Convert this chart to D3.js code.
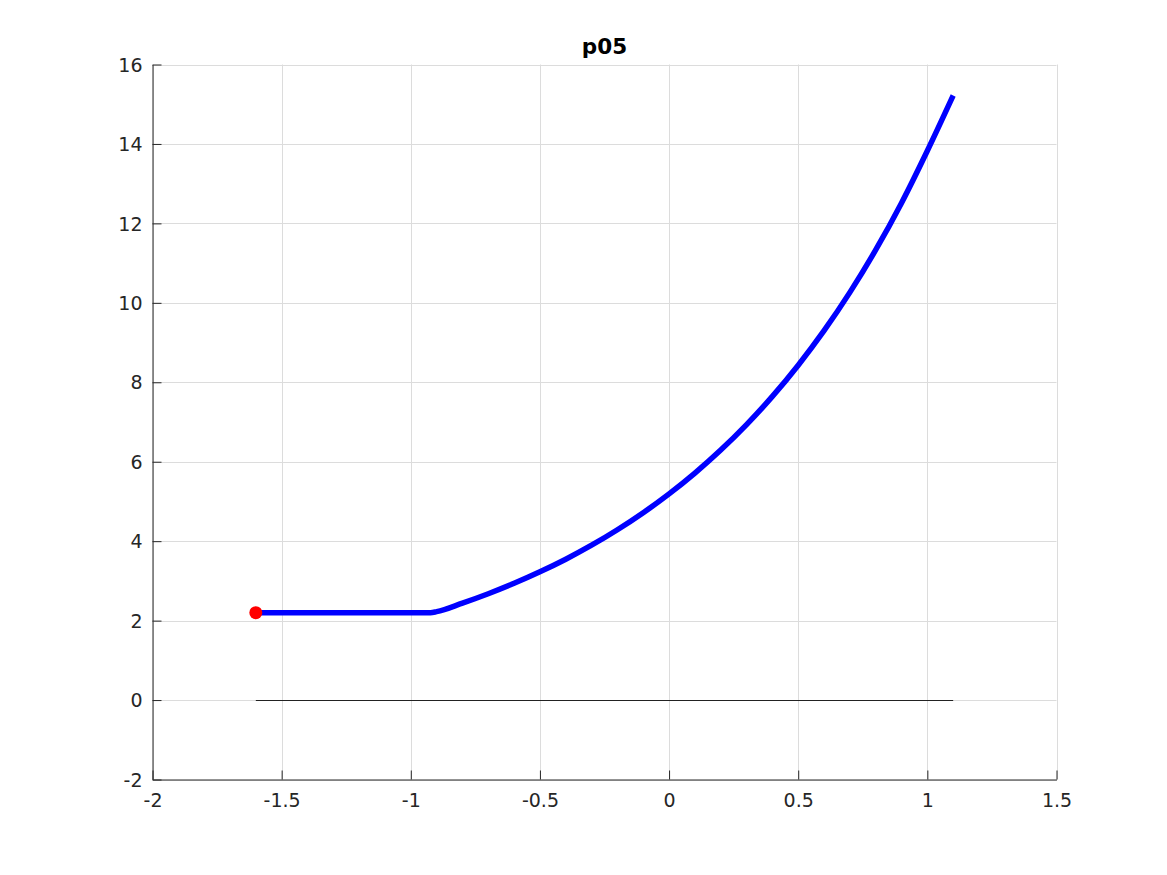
<!DOCTYPE html>
<html>
<head>
<meta charset="utf-8">
<script src="https://cdn.jsdelivr.net/npm/d3@7"></script>
<style>
  html, body { margin: 0; padding: 0; background: #fff; }
  svg { display: block; }
  text { font-family: "DejaVu Sans", sans-serif; }
</style>
</head>
<body>
<svg id="chart" width="1167" height="875"></svg>
<script>
// ---- data ----
const title = "p05";
const curveX = [-1.6, -0.924, -0.9, -0.8, -0.7, -0.6, -0.5, -0.4, -0.3, -0.2, -0.1, 0, 0.1, 0.2, 0.3, 0.4, 0.5, 0.6, 0.7, 0.8, 0.9, 1.0, 1.1];
const curveY = [2.2, 2.2, 2.225, 2.44, 2.677, 2.939, 3.228, 3.546, 3.898, 4.287, 4.716, 5.19, 5.714, 6.293, 6.935, 7.644, 8.43, 9.299, 10.263, 11.331, 12.515, 13.829, 15.22];
const baseX = [-1.6, 1.1];
const baseY = [0, 0];
const startPoint = [-1.6, 2.2];
const xTicks = [-2, -1.5, -1, -0.5, 0, 0.5, 1, 1.5];
const yTicks = [-2, 0, 2, 4, 6, 8, 10, 12, 14, 16];
const xDomain = [-2, 1.5];
const yDomain = [-2, 16];

(function () {
  // ---- layout ----
  const mLeft = 152.5, mRight = 1056.5, mTop = 64.5, mBottom = 779.5;
  const svg = d3.select("#chart");
  const x = d3.scaleLinear().domain(xDomain).range([mLeft, mRight]);
  const y = d3.scaleLinear().domain(yDomain).range([mBottom, mTop]);

  // grid
  const grid = svg.append("g");
  grid.selectAll(".gx").data(xTicks).enter().append("line")
    .attr("x1", d => Math.round(x(d)) + 0.5).attr("x2", d => Math.round(x(d)) + 0.5)
    .attr("y1", mTop).attr("y2", mBottom)
    .attr("stroke", "#dcdcdc").attr("stroke-width", 1);
  grid.selectAll(".gy").data(yTicks).enter().append("line")
    .attr("y1", d => Math.round(y(d)) + 0.5).attr("y2", d => Math.round(y(d)) + 0.5)
    .attr("x1", mLeft).attr("x2", mRight)
    .attr("stroke", "#dcdcdc").attr("stroke-width", 1);

  // axes
  const fmt = d => String(d);
  const xAxis = d3.axisBottom(x).tickValues(xTicks).tickFormat(fmt).tickSizeInner(-9).tickSizeOuter(0).tickPadding(14);
  const yAxis = d3.axisLeft(y).tickValues(yTicks).tickFormat(fmt).tickSizeInner(-9).tickSizeOuter(0).tickPadding(10);

  const gx = svg.append("g").attr("transform", `translate(0,${mBottom})`).call(xAxis);
  const gy = svg.append("g").attr("transform", `translate(${mLeft},0)`).call(yAxis);
  [gx, gy].forEach(g => {
    g.select(".domain").attr("stroke", "#262626").attr("stroke-width", 1);
    g.selectAll(".tick line").attr("stroke", "#262626").attr("stroke-width", 1);
    g.selectAll(".tick text").attr("fill", "#262626")
      .style("font-family", "DejaVu Sans, sans-serif").style("font-size", "19px");
  });
  gx.selectAll(".tick text").attr("dy", "0.71em");
  gy.selectAll(".tick text").attr("dy", "0.35em");

  // baseline y=0 (black)
  svg.append("path")
    .datum(d3.range(baseX.length))
    .attr("d", d3.line().x(i => x(baseX[i])).y(i => Math.round(y(baseY[i])) + 0.5))
    .attr("stroke", "#222").attr("stroke-width", 1).attr("fill", "none");

  // main curve
  svg.append("path")
    .datum(d3.range(curveX.length))
    .attr("d", d3.line().curve(d3.curveMonotoneX).x(i => x(curveX[i])).y(i => y(curveY[i])))
    .attr("stroke", "#0000ff").attr("stroke-width", 5.5).attr("fill", "none")
    .attr("stroke-linejoin", "round");

  // start point
  svg.append("circle")
    .attr("cx", x(startPoint[0])).attr("cy", y(startPoint[1])).attr("r", 6.5)
    .attr("fill", "#ff0000");

  // title
  svg.append("text")
    .attr("x", (mLeft + mRight) / 2).attr("y", 54)
    .attr("text-anchor", "middle")
    .style("font-family", "DejaVu Sans, sans-serif").style("font-weight", "bold").style("font-size", "21.5px")
    .attr("fill", "#000")
    .text(title);
})();
</script>
</body>
</html>
